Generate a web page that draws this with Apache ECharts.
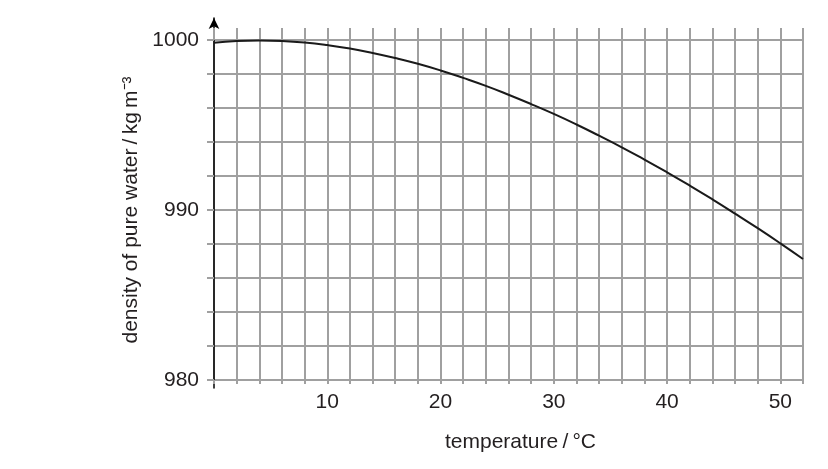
<!DOCTYPE html>
<html>
<head>
<meta charset="utf-8">
<script src="https://cdn.jsdelivr.net/npm/echarts@6/dist/echarts.min.js"></script>
<style>
  html, body { margin: 0; padding: 0; background: #fff; }
  #main { width: 828px; height: 469px; }
</style>
</head>
<body>
<div id="main"></div>
<script>
// temperature in °C and density of pure water in kg m^-3
var temps = [0, 2, 4, 6, 8, 10, 12, 14, 16, 18, 20, 22, 24, 26, 28, 30, 32, 34, 36, 38, 40, 42, 44, 46, 48, 50, 52]
var density = [999.84, 999.94, 999.97, 999.94, 999.85, 999.70, 999.50, 999.24, 998.94, 998.60, 998.21, 997.77,
  997.30, 996.78, 996.23, 995.65, 995.03, 994.37, 993.69, 992.97, 992.22, 991.44, 990.63, 989.79, 988.93, 988.04, 987.12]
var xLabels = [10, 20, 30, 40, 50]
var yLabels = [980, 990, 1000]

var font = 'Liberation Sans, Arial, sans-serif'
var gridGrey = '#a0a0a0'
var textColor = '#231f20'

var chart = echarts.init(document.getElementById('main'))
chart.setOption({
  animation: false,
  grid: [
    { left: 214, right: 25, top: 40, bottom: 89 },
    // only used for the y axis line with its arrow
    { left: 214, right: 25, top: 18, bottom: 81 }
  ],
  xAxis: [
    {
      gridIndex: 0,
      type: 'value',
      min: 0,
      max: 52,
      interval: 2,
      name: 'temperature\u2009/\u2009°C',
      nameLocation: 'middle',
      nameGap: 52,
      nameTextStyle: { fontFamily: font, fontSize: 21, color: textColor, padding: [0, 0, 0, 24] },
      axisLine: { show: false },
      axisTick: { show: true, length: 4, lineStyle: { color: gridGrey, width: 2 } },
      axisLabel: {
        margin: 12,
        fontFamily: font,
        fontSize: 21,
        color: textColor,
        formatter: function (v) { return xLabels.indexOf(v) >= 0 ? String(v) : '' }
      },
      splitLine: { show: true, lineStyle: { color: gridGrey, width: 2 } }
    },
    {
      // ticks poking above the top of the grid
      gridIndex: 0,
      type: 'value',
      position: 'top',
      min: 0,
      max: 52,
      interval: 2,
      axisLine: { show: false },
      axisTick: { show: true, length: 12, lineStyle: { color: gridGrey, width: 2 } },
      axisLabel: { show: false },
      splitLine: { show: false }
    },
    {
      gridIndex: 1,
      type: 'value',
      min: 0,
      max: 1,
      show: false
    }
  ],
  yAxis: [
    {
      gridIndex: 0,
      type: 'value',
      min: 980,
      max: 1000,
      interval: 2,
      name: 'density of pure water\u2009/\u2009kg\u2009m⁻³',
      nameLocation: 'middle',
      nameGap: 70,
      nameTextStyle: { fontFamily: font, fontSize: 21, color: textColor },
      axisLine: { show: false },
      axisTick: { show: true, length: 7, lineStyle: { color: gridGrey, width: 2 } },
      axisLabel: {
        margin: 15,
        fontFamily: font,
        fontSize: 21,
        color: textColor,
        formatter: function (v) { return yLabels.indexOf(v) >= 0 ? String(v) : '' }
      },
      splitLine: { show: true, lineStyle: { color: gridGrey, width: 2 } }
    },
    {
      gridIndex: 1,
      type: 'value',
      min: 0,
      max: 1,
      axisLine: {
        show: true,
        symbol: ['none', 'arrow'],
        symbolSize: [8, 11],
        lineStyle: { color: '#000', width: 1.5 }
      },
      axisTick: { show: false },
      axisLabel: { show: false },
      splitLine: { show: false }
    }
  ],
  series: [
    {
      type: 'line',
      xAxisIndex: 0,
      yAxisIndex: 0,
      data: temps.map(function (t, i) { return [t, density[i]] }),
      smooth: true,
      showSymbol: false,
      lineStyle: { color: '#1a1a1a', width: 2 }
    }
  ]
})
</script>
</body>
</html>
